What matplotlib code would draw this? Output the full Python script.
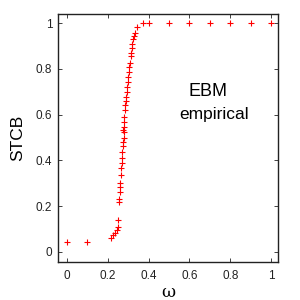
import matplotlib
matplotlib.use("Agg")
import matplotlib.pyplot as plt

omega = [0.0, 0.1, 0.216, 0.224, 0.235, 0.244, 0.25, 0.252, 0.253, 0.254,
         0.26, 0.26, 0.261, 0.263, 0.266, 0.268, 0.27, 0.271, 0.275, 0.276,
         0.278, 0.279, 0.276, 0.278, 0.279, 0.281, 0.284, 0.286, 0.288, 0.289,
         0.293, 0.294, 0.297, 0.30, 0.304, 0.306, 0.307, 0.312, 0.314, 0.317,
         0.320, 0.325, 0.330, 0.333, 0.345, 0.371, 0.40, 0.5, 0.6, 0.7, 0.8, 0.9, 1.0]
stcb = [0.045, 0.045, 0.062, 0.074, 0.084, 0.096, 0.11, 0.14, 0.22, 0.23,
        0.263, 0.285, 0.30, 0.336, 0.365, 0.387, 0.409, 0.438, 0.463, 0.482,
        0.50, 0.525, 0.533, 0.547, 0.569, 0.59, 0.62, 0.642, 0.659, 0.678,
        0.70, 0.722, 0.744, 0.766, 0.788, 0.81, 0.824, 0.857, 0.872, 0.89,
        0.911, 0.930, 0.945, 0.958, 0.984, 1.0, 1.0, 1.0, 1.0, 1.0, 1.0, 1.0, 1.0]

xticks = [0, 0.2, 0.4, 0.6, 0.8, 1]
xticklabels = ["0", "0.2", "0.4", "0.6", "0.8", "1"]
yticks = [0, 0.2, 0.4, 0.6, 0.8, 1]
yticklabels = ["0", "0.2", "0.4", "0.6", "0.8", "1"]

plt.rcParams['font.family'] = ['Liberation Sans', 'DejaVu Sans']

fig = plt.figure(figsize=(3, 3), dpi=100)
ax = fig.add_axes([0.193, 0.127, 0.734, 0.826])
ax.plot(omega, stcb, linestyle='none', marker='+', color='red',
        markersize=5, markeredgewidth=0.8)

ax.set_xlim(-0.044, 1.034)
ax.set_ylim(-0.044, 1.04)
ax.set_xticks(xticks)
ax.set_xticklabels(xticklabels)
ax.set_yticks(yticks)
ax.set_yticklabels(yticklabels)
ax.tick_params(direction='in', length=3, width=0.6, labelsize=8.5,
               top=True, right=True, colors='#222222', pad=4)
ax.tick_params(axis='x', pad=6)
for s in ax.spines.values():
    s.set_linewidth(1.0)
    s.set_color('#222222')

ax.set_xlabel('ω', fontsize=12.5, family=['DejaVu Serif'], labelpad=1)
ax.set_ylabel('STCB', fontsize=12.5, labelpad=8)

ax.text(0.69, 0.70, 'EBM', fontsize=13, ha='center', va='center')
ax.text(0.72, 0.60, 'empirical', fontsize=12.5, ha='center', va='center')

fig.savefig('out.png', dpi=100)
